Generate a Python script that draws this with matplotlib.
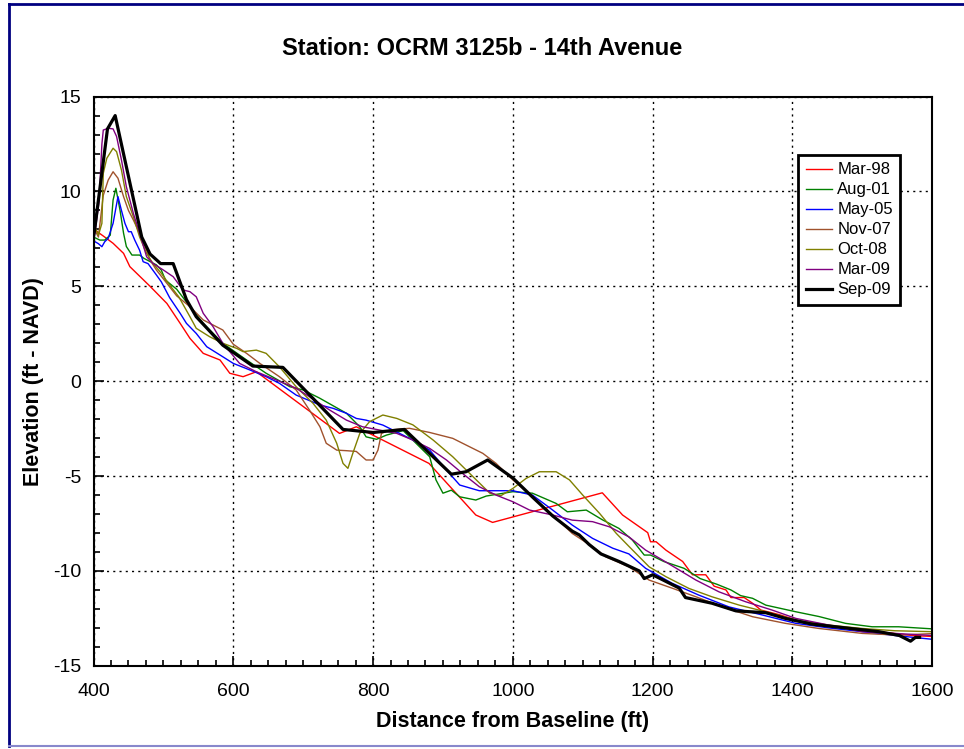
import matplotlib
matplotlib.use("Agg")
from matplotlib import pyplot as plt
from matplotlib.ticker import MultipleLocator
from matplotlib.lines import Line2D

plt.rcParams['font.family'] = ['Liberation Sans', 'DejaVu Sans']
plt.rcParams['axes.unicode_minus'] = False

# survey profiles, distance (ft) vs elevation (ft NAVD)
mar98_x = [400, 402, 416, 428, 443, 452, 481, 505, 524, 538, 557, 581, 595, 614, 633, 752, 776, 880, 947, 971,
           1128, 1157, 1193, 1197, 1205, 1219, 1233, 1243, 1257, 1276, 1288, 1305, 1312, 1331, 1343, 1355, 1381,
           1428, 1476, 1524, 1571, 1600]
mar98_y = [8.0, 7.97, 7.6, 7.27, 6.74, 6.04, 5.0, 4.1, 3.05, 2.26, 1.47, 1.12, 0.42, 0.24, 0.5, -2.75, -2.4, -4.33,
           -7.05, -7.44, -5.88, -7.05, -7.98, -8.46, -8.46, -8.9, -9.25, -9.5, -10.2, -10.2, -10.8, -11.0, -11.4,
           -11.4, -11.7, -12.06, -12.3, -12.85, -13.0, -13.2, -13.4, -13.45]

aug01_x = [400, 409, 416, 424, 428, 432, 438, 443, 447, 455, 466, 472, 490, 497, 503, 519, 538, 557, 585, 619, 647,
           681, 700, 723, 762, 781, 790, 805, 819, 843, 881, 890, 900, 912, 924, 947, 962, 1000, 1028, 1062, 1078,
           1105, 1128, 1152, 1171, 1188, 1197, 1216, 1245, 1268, 1292, 1312, 1326, 1343, 1362, 1405, 1438, 1476,
           1514, 1552, 1600]
aug01_y = [7.6, 7.44, 7.44, 7.7, 9.55, 10.17, 9.0, 7.8, 7.1, 6.65, 6.65, 6.48, 6.13, 5.86, 5.33, 4.85, 3.93, 3.05,
           2.0, 1.12, 0.42, -0.29, -0.46, -0.88, -1.69, -2.4, -2.93, -3.06, -2.84, -2.6, -3.98, -5.2, -5.9, -5.74,
           -6.09, -6.26, -6.05, -5.82, -5.9, -6.44, -6.88, -6.79, -7.3, -7.76, -8.37, -9.16, -9.16, -9.5, -9.86,
           -10.4, -10.7, -11.0, -11.3, -11.44, -11.8, -12.15, -12.4, -12.76, -12.94, -12.94, -13.05]

may05_x = [400, 407, 412, 416, 421, 428, 435, 440, 445, 450, 454, 459, 466, 471, 478, 490, 497, 509, 524, 533, 547,
           562, 585, 600, 624, 647, 666, 690, 724, 743, 762, 776, 790, 814, 838, 862, 881, 905, 924, 952, 1000,
           1028, 1057, 1085, 1114, 1143, 1166, 1190, 1228, 1266, 1309, 1357, 1405, 1452, 1500, 1547, 1600]
may05_y = [7.4, 7.25, 7.09, 7.35, 7.53, 8.32, 9.73, 9.0, 8.32, 7.88, 7.88, 7.44, 6.9, 6.3, 6.2, 5.6, 5.24, 4.4,
           3.58, 3.05, 2.52, 1.82, 1.29, 0.94, 0.59, 0.24, -0.11, -0.73, -1.25, -1.43, -1.69, -1.96, -2.05, -2.31,
           -2.75, -3.19, -3.63, -4.68, -5.47, -5.77, -5.77, -6.0, -6.79, -7.58, -8.28, -8.8, -9.1, -9.86, -10.65,
           -11.27, -11.89, -12.32, -12.76, -13.0, -13.2, -13.4, -13.6]

nov07_x = [400, 402, 407, 414, 421, 428, 435, 443, 450, 457, 466, 474, 481, 490, 505, 519, 538, 557, 585, 600, 619,
           638, 666, 690, 709, 724, 733, 748, 762, 776, 790, 800, 807, 812, 824, 852, 881, 914, 933, 957, 976,
           1000, 1028, 1057, 1085, 1114, 1133, 1166, 1195, 1229, 1262, 1300, 1343, 1390, 1438, 1500, 1552, 1600]
nov07_y = [7.9, 7.97, 7.6, 9.8, 10.6, 11.04, 10.7, 9.73, 9.0, 8.5, 7.8, 7.09, 6.39, 5.86, 5.16, 4.5, 3.93, 3.23,
           2.7, 1.95, 1.47, 0.94, 0.24, -0.46, -1.52, -2.4, -3.27, -3.63, -3.66, -3.7, -4.15, -4.15, -3.63, -2.75,
           -2.57, -2.48, -2.7, -3.01, -3.36, -3.8, -4.33, -5.2, -6.09, -7.05, -8.02, -8.72, -9.25, -9.78, -10.48,
           -10.92, -11.36, -11.89, -12.41, -12.76, -13.03, -13.29, -13.38, -13.3]

oct08_x = [400, 402, 407, 412, 414, 419, 428, 433, 440, 447, 457, 466, 476, 485, 497, 509, 522, 538, 547, 566, 585,
           605, 614, 633, 647, 666, 690, 714, 733, 748, 757, 764, 771, 781, 795, 814, 834, 857, 886, 914, 943, 967,
           983, 1000, 1019, 1038, 1062, 1081, 1100, 1124, 1148, 1166, 1195, 1219, 1252, 1285, 1324, 1362, 1405,
           1452, 1500, 1547, 1600]
oct08_y = [8.0, 8.14, 7.7, 8.32, 10.96, 11.75, 12.28, 12.1, 11.13, 9.73, 8.67, 7.6, 6.74, 6.21, 5.69, 5.07, 4.45,
           3.4, 2.79, 2.35, 2.0, 1.73, 1.56, 1.64, 1.47, 0.76, -0.29, -1.16, -2.05, -3.27, -4.33, -4.59, -3.8,
           -2.75, -2.13, -1.78, -1.96, -2.3, -3.1, -3.98, -5.03, -5.9, -6.03, -5.65, -5.12, -4.77, -4.77, -5.2,
           -6.0, -6.96, -8.02, -8.7, -9.78, -10.3, -10.92, -11.36, -11.8, -12.15, -12.59, -12.85, -13.03, -13.15,
           -13.2]

mar09_x = [400, 402, 408, 412, 414, 421, 428, 433, 440, 447, 457, 466, 476, 485, 500, 514, 528, 538, 547, 557, 571,
           585, 609, 633, 662, 690, 709, 738, 762, 785, 809, 834, 857, 881, 905, 928, 952, 976, 1000, 1024, 1057,
           1085, 1114, 1138, 1166, 1190, 1214, 1238, 1262, 1295, 1333, 1371, 1405, 1452, 1500, 1547, 1600]
mar09_y = [7.8, 7.8, 9.5, 12.5, 13.24, 13.33, 13.3, 12.9, 11.66, 10.25, 8.85, 7.8, 6.56, 6.21, 5.86, 5.51, 4.81,
           4.72, 4.45, 3.58, 2.88, 2.0, 0.94, 0.5, 0.06, -0.37, -0.82, -1.52, -2.05, -2.4, -2.57, -2.75, -3.1,
           -3.54, -4.15, -4.86, -5.56, -6.0, -6.35, -6.79, -7.05, -7.32, -7.4, -7.67, -8.2, -8.9, -9.42, -9.95,
           -10.48, -11.1, -11.62, -12.06, -12.5, -12.85, -13.2, -13.29, -13.4]

sep09_x = [400, 402, 420, 431, 469, 481, 496, 514, 533, 547, 585, 628, 671, 700, 757, 800, 845, 912, 933, 964,
           1000, 1028, 1057, 1085, 1095, 1109, 1126, 1152, 1181, 1188, 1200, 1238, 1247, 1285, 1319, 1362, 1390,
           1428, 1476, 1524, 1553, 1569, 1576, 1582]
sep09_y = [7.6, 8.1, 13.3, 14.0, 7.6, 6.7, 6.2, 6.2, 4.3, 3.4, 1.9, 0.8, 0.73, -0.37, -2.54, -2.7, -2.54, -4.9,
           -4.77, -4.15, -5.1, -6.1, -7.1, -7.9, -8.1, -8.6, -9.1, -9.5, -10.0, -10.4, -10.2, -10.9, -11.4, -11.7,
           -12.1, -12.2, -12.5, -12.8, -13.0, -13.2, -13.4, -13.7, -13.5, -13.5]

labels = ['Mar-98', 'Aug-01', 'May-05', 'Nov-07', 'Oct-08', 'Mar-09', 'Sep-09']
colors = ['#ff0000', '#008000', '#0000ff', '#a0522d', '#808000', '#800080', '#000000']

fig = plt.figure(figsize=(9.64, 7.49), dpi=100)
ax = fig.add_axes([0.097, 0.111, 0.870, 0.760])

series = [(mar98_x, mar98_y), (aug01_x, aug01_y), (may05_x, may05_y), (nov07_x, nov07_y),
          (oct08_x, oct08_y), (mar09_x, mar09_y), (sep09_x, sep09_y)]
for (xs, ys), lab, col in zip(series, labels, colors):
    lw = 2.3 if lab == 'Sep-09' else 1.0
    ax.plot(xs, ys, color=col, linewidth=lw, label=lab, zorder=3 if lab == 'Sep-09' else 2)

ax.set_xlim(400, 1600)
ax.set_ylim(-15, 15)
ax.xaxis.set_major_locator(MultipleLocator(200))
ax.xaxis.set_minor_locator(MultipleLocator(25))
ax.yaxis.set_major_locator(MultipleLocator(5))
ax.yaxis.set_minor_locator(MultipleLocator(1))
ax.tick_params(which='both', direction='in', top=False, right=False, labelsize=14, width=1.2)
ax.tick_params(which='major', length=7)
ax.tick_params(axis='x', which='major', pad=12)
ax.tick_params(axis='y', which='major', pad=9)
ax.tick_params(which='minor', length=4)
ax.grid(True, which='major', color='black', linestyle=(0, (1.5, 3)), linewidth=1.0)
for s in ax.spines.values():
    s.set_linewidth(1.5)

ax.set_xlabel('Distance from Baseline (ft)', fontsize=15.5, fontweight='bold', labelpad=8)
ax.set_ylabel('Elevation (ft - NAVD)', fontsize=15.5, fontweight='bold', labelpad=6)
fig.text(0.5, 0.935, 'Station: OCRM 3125b - 14th Avenue', ha='center', va='center',
         fontsize=17, fontweight='bold')

leg = ax.legend(loc='upper right', bbox_to_anchor=(0.962, 0.8975), fontsize=12, frameon=True,
                fancybox=False, framealpha=1, edgecolor='black', handlelength=1.6, labelspacing=0.3,
                borderpad=0.45, handletextpad=0.3, borderaxespad=0)
leg.get_frame().set_linewidth(2.0)

# page border
fig.add_artist(Line2D([0.009, 0.009], [0.004, 0.994], color='#000080', linewidth=2, transform=fig.transFigure))
fig.add_artist(Line2D([0.009, 1.0], [0.994, 0.994], color='#000080', linewidth=2, transform=fig.transFigure))
fig.add_artist(Line2D([0.009, 1.0], [0.004, 0.004], color='#8888cc', linewidth=1.5, transform=fig.transFigure))

fig.savefig('out.png', dpi=100)
